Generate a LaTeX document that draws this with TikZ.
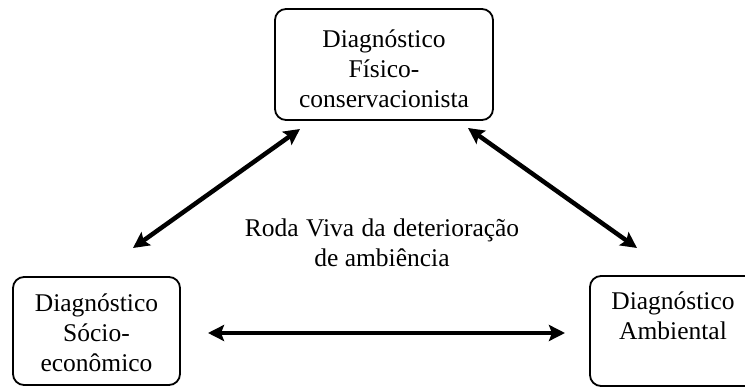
\documentclass[tikz,border=0pt]{standalone}
\usepackage{fontspec}
\setmainfont{Liberation Serif}
\usetikzlibrary{arrows.meta}
\begin{document}
\begin{tikzpicture}[x=1pt,y=-1pt,
  frame/.style={draw, line width=1.8pt, rounded corners=11pt, inner sep=0pt},
  txt/.style={align=center, inner sep=0pt, font=\fontsize{25.5}{30}\selectfont},
  link/.style={line width=4.5pt, {Stealth[length=16pt,width=16pt,inset=3pt]}-{Stealth[length=16pt,width=16pt,inset=3pt]}}]
\useasboundingbox (0,0) rectangle (745,387);
% boxes
\node[frame, minimum width=218pt, minimum height=111pt] (fisbox) at (384,64.5) {};
\node[frame, minimum width=167pt, minimum height=108pt] (socbox) at (96.5,331) {};
\node[frame, minimum width=166pt, minimum height=110pt] (ambbox) at (673,331) {};
% texts
\node[txt] (fis) at (384,69) {Diagnóstico\\Físico-\\conservacionista};
\node[txt] (soc) at (96.5,333) {Diagnóstico\\Sócio-\\econômico};
\node[txt] (amb) at (673,315.5) {Diagnóstico\\Ambiental};
\node[txt] (roda) at (382,242.5) {\spaceskip=7.5pt\relax Roda Viva da deterioração\\de ambiência};
% arrow ends
\coordinate (l1) at (133,248);
\coordinate (l2) at (300,129);
\coordinate (r1) at (468,128);
\coordinate (r2) at (637,248);
\coordinate (h1) at (208,333);
\coordinate (h2) at (565,333);
\draw[link] (l1) -- (l2);
\draw[link] (r1) -- (r2);
\draw[link] (h1) -- (h2);
\end{tikzpicture}
\end{document}
